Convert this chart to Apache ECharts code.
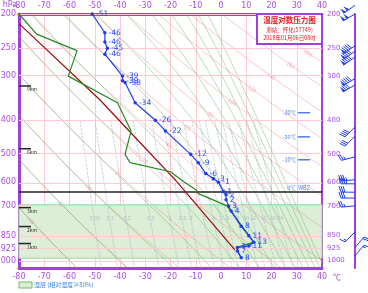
<!DOCTYPE html>
<html>
<head>
<meta charset="utf-8">
<script src="https://cdn.jsdelivr.net/npm/echarts@6/dist/echarts.min.js"></script>
<style>
  html, body { margin: 0; padding: 0; background: #fff; }
  #chart { width: 368px; height: 293px; }
</style>
</head>
<body>
<div id="chart"></div>
<script>
const PRESSURE_TICKS = [200, 250, 300, 400, 500, 600, 700, 850, 925, 1000]
const TEMP_MIN = -80
const TEMP_MAX = 40
const P_TOP = 200
const P_BOTTOM = 1050

// 温度廓线
const TEMP_LEVELS = [200, 226, 240, 250, 260, 300, 309, 313, 357, 400, 429, 500, 528, 567, 586, 600, 638, 651, 672, 700, 724, 800, 850, 887, 910, 918, 939, 982]
const TEMP_VALUES = [-51, -46, -46, -45, -46, -39, -39, -38, -34, -26, -22, -12, -9, -6, -3, -1, 1, 2, 2, 3, 4, 8, 11, 13, 11, 6.5, 6.5, 8]

// 露点廓线
const DEW_LEVELS = [200, 228, 254, 300, 357, 429, 500, 528, 560, 599, 630, 646, 700, 887, 918, 939, 982]
const DEW_VALUES = [-80, -73, -57, -60.5, -41, -35.6, -38, -36, -20, -14.6, -9.9, -9, 2.4, 13, 6.5, 6.5, 8]

// 状态曲线
const PARCEL_LEVELS = [213, 350, 486, 590, 933]
const PARCEL_VALUES = [-80, -48, -29.3, -18.2, 5.5]

// 高度标记
const HEIGHT_LEVELS = [320, 482, 708, 801, 895]
const HEIGHT_LABELS = ['9km', '6km', '3km', '2km', '1km']

// 特征温度层
const ISO_LEVELS = [381, 446, 518]
const ISO_LABELS = ['-30℃', '-20℃', '-10℃']
const ZERO_LEVEL = 638
const WET_LAYER = [695, 985]

// 风
const WIND_LEVELS = [189, 200, 246, 255, 265, 305, 318, 418, 444, 508, 590, 606, 640, 665, 700, 830, 920, 970]
const WIND_DIRS = [235, 240, 235, 235, 235, 240, 240, 225, 225, 255, 265, 270, 270, 270, 265, 225, 40, 40]
const WIND_SPEEDS = [40, 40, 36, 36, 36, 36, 32, 16, 12, 10, 14, 14, 12, 12, 10, 6, 8, 6]

// 底图线：干绝热(θ, ℃)、假相当位温(θse, ℃)、饱和比湿(g/kg)
const THETA_VALUES = [-60, -40, -20, 0, 20, 40, 60, 80, 100, 120, 140, 160, 180, 200]
const THETA_LABEL_LEVELS = [770, 688, 617, 565, 520, 470, 420, 386, 355, 326, 300, 279, 258, 240]
const MIX_RATIOS = [0.05, 0.1, 0.2, 0.5, 1, 1.5, 2, 3, 4, 5, 6, 8, 10, 12, 16, 20, 24]
const MIX_LABEL_LEVEL = 755

const PURPLE = '#a13ede'
const LABEL_PURPLE = '#a84fe0'
const PINK = '#ffc9d2'
const BLUE = '#1d3cf5'
const FONT = 'Noto Sans CJK SC, sans-serif'
const DRY_COLOR = 'rgba(236, 120, 140, 0.45)'
const MOIST_COLOR = 'rgba(90, 168, 80, 0.45)'

const lp = (p) => Math.log(p)

function dryT(theta, p) {
  return (theta + 273.15) * Math.pow(p / 1000, 0.2857) - 273.15
}

function dryAdiabat(theta) {
  const pts = []
  for (let p = P_TOP; p <= P_BOTTOM; p += 10) {
    pts.push([dryT(theta, p), lp(p)])
  }
  return pts
}

function satMix(t, p) {
  const es = 6.112 * Math.exp((17.67 * t) / (t + 243.5))
  return (0.622 * es) / (p - es)
}

// θse 对应的 1000hPa 温度
function baseTemp(thetaSe) {
  const target = thetaSe + 273.15
  let lo = -90, hi = 50
  for (let i = 0; i < 50; i++) {
    const t = (lo + hi) / 2
    const r = satMix(t, 1000) * 1000
    const tk = t + 273.15
    const th = tk * Math.exp((3.376 / tk - 0.00254) * r * (1 + 0.00081 * r))
    if (th > target) hi = t
    else lo = t
  }
  return (lo + hi) / 2
}

function moistAdiabat(thetaSe) {
  const Rd = 287.04, cp = 1005.7, Lv = 2.501e6, eps = 0.622
  const grad = (tk, p) => {
    const rs = satMix(tk - 273.15, p)
    return ((Rd * tk + Lv * rs) / (cp + (Lv * Lv * rs * eps) / (Rd * tk * tk))) / p
  }
  const t0 = baseTemp(thetaSe)
  const up = []
  let tk = t0 + 273.15
  for (let p = 1000; p >= P_TOP; p -= 5) {
    up.push([tk - 273.15, lp(p)])
    tk -= grad(tk, p) * 5
  }
  const down = []
  tk = t0 + 273.15
  for (let p = 1000; p <= P_BOTTOM; p += 5) {
    down.push([tk - 273.15, lp(p)])
    tk += grad(tk, p) * 5
  }
  return down.reverse().concat(up.slice(1))
}

function mixT(w, p) {
  const e = (w * p) / (622 + w)
  const a = Math.log(e / 6.112)
  return (243.5 * a) / (17.67 - a)
}

function mixLine(w) {
  const pts = []
  for (let p = 400; p <= P_BOTTOM; p += 10) {
    pts.push([mixT(w, p), lp(p)])
  }
  return pts
}

function guideSeries(data, color, type) {
  return {
    type: 'line',
    data,
    showSymbol: false,
    silent: true,
    animation: false,
    z: 1,
    lineStyle: { color, width: 0.9, type: type || 'solid' },
  }
}

function renderBarb(params, api) {
  const p = api.value(0)
  const dir = api.value(1)
  let rest = api.value(2)
  const pt = api.coord([TEMP_MAX, lp(p)])
  const x0 = pt[0] + 33
  const y0 = pt[1]
  const rad = (dir * Math.PI) / 180
  const sx = Math.sin(rad)
  const sy = -Math.cos(rad)
  const px = -sy
  const py = sx
  const L = 14
  const children = [{
    type: 'line',
    shape: { x1: x0, y1: y0, x2: x0 + sx * L, y2: y0 + sy * L },
    style: { stroke: BLUE, lineWidth: 1 },
  }]
  let pos = L
  while (rest >= 20) {
    const ax = x0 + sx * pos, ay = y0 + sy * pos
    const bx = x0 + sx * (pos - 3), by = y0 + sy * (pos - 3)
    children.push({
      type: 'polygon',
      shape: { points: [[ax, ay], [bx, by], [ax + px * 6, ay + py * 6]] },
      style: { fill: BLUE },
    })
    pos -= 4
    rest -= 20
  }
  while (rest >= 4) {
    const ax = x0 + sx * pos, ay = y0 + sy * pos
    children.push({
      type: 'line',
      shape: { x1: ax, y1: ay, x2: ax + px * 6 + sx * 2, y2: ay + py * 6 + sy * 2 },
      style: { stroke: BLUE, lineWidth: 1 },
    })
    pos -= 2
    rest -= 4
  }
  if (rest >= 2) {
    const ax = x0 + sx * pos, ay = y0 + sy * pos
    children.push({
      type: 'line',
      shape: { x1: ax, y1: ay, x2: ax + px * 3 + sx, y2: ay + py * 3 + sy },
      style: { stroke: BLUE, lineWidth: 1 },
    })
  }
  return { type: 'group', children }
}

function renderHeights(params, api) {
  const pt = api.coord([TEMP_MIN, lp(api.value(0))])
  return {
    type: 'group',
    children: [
      { type: 'line', shape: { x1: pt[0], y1: pt[1], x2: pt[0] + 12, y2: pt[1] }, style: { stroke: '#222', lineWidth: 1.5 } },
      { type: 'text', x: pt[0] + 8, y: pt[1] + 1, style: { text: HEIGHT_LABELS[params.dataIndex], fill: '#333', font: '5px ' + FONT } },
    ],
  }
}

function renderIso(params, api) {
  const pt = api.coord([TEMP_MAX, lp(api.value(0))])
  return {
    type: 'group',
    children: [
      { type: 'line', shape: { x1: pt[0] - 24, y1: pt[1], x2: pt[0] - 12, y2: pt[1] }, style: { stroke: '#4f7de8', lineWidth: 1.5 } },
      { type: 'text', x: pt[0] - 26, y: pt[1], style: { text: ISO_LABELS[params.dataIndex], fill: '#4f7de8', font: '5.5px ' + FONT, align: 'right', verticalAlign: 'middle' } },
    ],
  }
}

function renderThetaLabel(params, api) {
  const theta = api.value(0)
  const p = api.value(1)
  const a = api.coord([dryT(theta, p), lp(p)])
  const b = api.coord([dryT(theta, p * 1.05), lp(p * 1.05)])
  if (a[0] < 22 || a[0] > 318) return null
  const angle = Math.atan2(b[1] - a[1], b[0] - a[0])
  return {
    type: 'text',
    x: a[0],
    y: a[1],
    rotation: -angle,
    style: { text: String(theta), fill: 'rgba(236, 120, 140, 0.6)', font: '5.5px ' + FONT, align: 'center', verticalAlign: 'middle' },
  }
}

function renderMixLabel(params, api) {
  const w = api.value(0)
  const pt = api.coord([mixT(w, MIX_LABEL_LEVEL), lp(MIX_LABEL_LEVEL)])
  if (pt[0] > 318) return null
  return {
    type: 'text',
    x: pt[0] + 1,
    y: pt[1],
    style: { text: String(w), fill: '#b4bcc6', font: '5.5px ' + FONT, align: 'center', verticalAlign: 'middle' },
  }
}

const chart = echarts.init(document.getElementById('chart'))

const series = []
THETA_VALUES.forEach((t) => series.push(guideSeries(dryAdiabat(t), DRY_COLOR)))
THETA_VALUES.forEach((t) => series.push(guideSeries(moistAdiabat(t), MOIST_COLOR)))
MIX_RATIOS.forEach((w) => series.push(guideSeries(mixLine(w), 'rgba(160, 178, 198, 0.6)', [3, 1])))

series.push({
  type: 'custom',
  data: THETA_VALUES.map((t, i) => [t, THETA_LABEL_LEVELS[i]]),
  renderItem: renderThetaLabel,
  silent: true,
  z: 2,
})

series.push({
  type: 'custom',
  data: MIX_RATIOS.map((w) => [w]),
  renderItem: renderMixLabel,
  silent: true,
  z: 2,
})

series.push({
  type: 'line',
  data: [],
  silent: true,
  z: 0,
  markArea: {
    silent: true,
    itemStyle: { color: '#dcefd6', borderColor: '#a8d49c', borderWidth: 1 },
    data: [[{ yAxis: lp(WET_LAYER[0]) }, { yAxis: lp(WET_LAYER[1]) }]],
  },
  markLine: {
    silent: true,
    symbol: 'none',
    label: { show: false },
    lineStyle: { color: PINK, width: 1, type: 'solid' },
    data: PRESSURE_TICKS.map((p) => ({ yAxis: lp(p) })),
  },
})

series.push({
  type: 'line',
  data: [],
  silent: true,
  z: 3,
  markLine: {
    silent: true,
    symbol: 'none',
    label: {
      show: true,
      position: 'insideEndTop',
      formatter: '0℃  WBZ',
      color: '#4f7de8',
      fontSize: 5.5,
      fontFamily: FONT,
      distance: [12, 1],
    },
    lineStyle: { color: '#222', width: 1.5, type: 'solid' },
    data: [{ yAxis: lp(ZERO_LEVEL) }],
  },
})

series.push({
  type: 'line',
  data: PARCEL_VALUES.map((t, i) => [t, lp(PARCEL_LEVELS[i])]),
  showSymbol: false,
  z: 5,
  lineStyle: { color: '#9b0d0d', width: 1.2 },
})

series.push({
  type: 'line',
  data: DEW_VALUES.map((t, i) => [t, lp(DEW_LEVELS[i])]),
  showSymbol: false,
  z: 5,
  lineStyle: { color: '#23881e', width: 1.2 },
})

series.push({
  type: 'line',
  data: TEMP_VALUES.map((t, i) => [t, lp(TEMP_LEVELS[i])]),
  symbol: 'circle',
  symbolSize: 3.5,
  z: 6,
  itemStyle: { color: BLUE },
  lineStyle: { color: BLUE, width: 1.2 },
  label: {
    show: true,
    position: 'right',
    distance: 2,
    color: '#2a48ff',
    fontSize: 7.5,
    fontFamily: 'DejaVu Sans',
    formatter: (d) => String(Math.round(d.value[0])),
  },
})

series.push({
  type: 'custom',
  data: HEIGHT_LEVELS.map((p) => [p]),
  renderItem: renderHeights,
  clip: false,
  z: 7,
  silent: true,
})

series.push({
  type: 'custom',
  data: ISO_LEVELS.map((p) => [p]),
  renderItem: renderIso,
  clip: false,
  z: 7,
  silent: true,
})

series.push({
  type: 'custom',
  data: WIND_LEVELS.map((p, i) => [p, WIND_DIRS[i], WIND_SPEEDS[i]]),
  renderItem: renderBarb,
  clip: false,
  z: 7,
  silent: true,
})

const yLabel = {
  color: LABEL_PURPLE,
  fontSize: 8,
  fontFamily: 'DejaVu Sans',
  customValues: PRESSURE_TICKS.map(lp),
  formatter: (v) => String(Math.round(Math.exp(v))),
}

chart.setOption({
  animation: false,
  grid: { left: 19, right: 46, top: 14, bottom: 25, containLabel: false, outerBoundsMode: 'none' },
  xAxis: [
    {
      type: 'value',
      position: 'bottom',
      min: TEMP_MIN,
      max: TEMP_MAX,
      interval: 10,
      axisLine: { onZero: false, lineStyle: { color: PURPLE, width: 3 } },
      axisTick: { show: false },
      axisLabel: { color: LABEL_PURPLE, fontSize: 8, fontFamily: 'DejaVu Sans', margin: 5 },
      splitLine: { show: true, lineStyle: { color: PINK, width: 1 } },
      name: '℃',
      nameLocation: 'end',
      nameGap: 9,
      nameTextStyle: { color: LABEL_PURPLE, fontSize: 8, fontFamily: FONT, verticalAlign: 'top', padding: [5, 0, 0, 0] },
    },
    {
      type: 'value',
      position: 'top',
      min: TEMP_MIN,
      max: TEMP_MAX,
      interval: 10,
      axisLine: { onZero: false, lineStyle: { color: PURPLE, width: 3 } },
      axisTick: { show: false },
      axisLabel: { color: LABEL_PURPLE, fontSize: 8, fontFamily: 'DejaVu Sans', margin: 4 },
      splitLine: { show: false },
    },
  ],
  yAxis: [
    {
      type: 'value',
      inverse: true,
      min: lp(P_TOP),
      max: lp(P_BOTTOM),
      axisLine: { show: true, onZero: false, lineStyle: { color: PURPLE, width: 3 } },
      axisTick: { show: false },
      axisLabel: { ...yLabel, margin: 3 },
      splitLine: { show: false },
    },
    {
      type: 'value',
      inverse: true,
      position: 'right',
      min: lp(P_TOP),
      max: lp(P_BOTTOM),
      axisLine: { show: true, onZero: false, lineStyle: { color: PURPLE, width: 2 } },
      axisTick: { show: false },
      axisLabel: { ...yLabel, fontSize: 7, margin: 5 },
      splitLine: { show: false },
    },
    {
      type: 'value',
      inverse: true,
      position: 'right',
      offset: 33,
      min: lp(P_TOP),
      max: lp(P_BOTTOM),
      axisLine: { show: true, onZero: false, lineStyle: { color: PURPLE, width: 2 } },
      axisTick: { show: false },
      axisLabel: { show: false },
      splitLine: { show: false },
    },
  ],
  graphic: [
    {
      type: 'text',
      x: 10,
      y: 5,
      style: { text: 'hPa', fill: LABEL_PURPLE, font: '8px DejaVu Sans', align: 'center', verticalAlign: 'middle' },
    },
    {
      type: 'rect',
      shape: { x: 257, y: 14, width: 65, height: 30 },
      style: { fill: '#fff', stroke: PURPLE, lineWidth: 2 },
      z: 100,
    },
    {
      type: 'text',
      x: 289.5,
      y: 20,
      style: { text: '温度对数压力图', fill: '#e01a22', font: 'bold 7.5px ' + FONT, align: 'center', verticalAlign: 'middle' },
      z: 101,
    },
    {
      type: 'text',
      x: 289.5,
      y: 30,
      style: { text: '测站：怀化(57749)', fill: '#e01a22', font: '5.5px ' + FONT, align: 'center', verticalAlign: 'middle' },
      z: 101,
    },
    {
      type: 'text',
      x: 289.5,
      y: 37.5,
      style: { text: '2018年01月06日08时', fill: '#e01a22', font: '5.5px ' + FONT, align: 'center', verticalAlign: 'middle' },
      z: 101,
    },
    {
      type: 'rect',
      shape: { x: 19, y: 282, width: 13, height: 6 },
      style: { fill: '#dcefd6', stroke: '#6cbf5c', lineWidth: 1 },
    },
    {
      type: 'text',
      x: 34,
      y: 285,
      style: { text: '湿层 (相对湿度≥80%)', fill: '#3f86d8', font: '6px ' + FONT, verticalAlign: 'middle' },
    },
  ],
  series,
})
</script>
</body>
</html>
